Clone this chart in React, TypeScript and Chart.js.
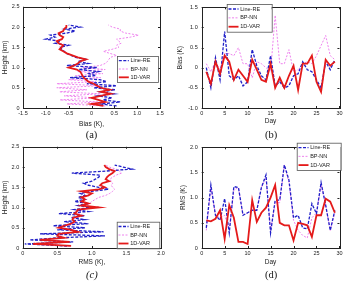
import React, { useEffect, useRef } from "react";
import { Chart, registerables } from "chart.js";
Chart.register(...registerables);

// ---------- data ----------
const heights = [0.05, 0.1, 0.15, 0.2, 0.25, 0.3, 0.35, 0.4, 0.45, 0.5, 0.55, 0.6, 0.65, 0.7, 0.75, 0.8, 0.85, 0.9, 0.95, 1.0, 1.05, 1.1, 1.15, 1.2, 1.25, 1.3, 1.35, 1.4, 1.45, 1.5, 1.55, 1.6, 1.65, 1.7, 1.75, 1.8, 1.85, 1.9, 1.95, 2.0, 2.05];

const biasProfileLineRE = [0.55, 0.2, 0.63, 0.25, 0.45, 0.15, 0.5, 0.2, 0.52, 0.05, 0.55, -0.1, 0.33, 0.18, -0.47, 0.1, -0.05, 0.15, -0.28, 0.12, -0.54, -0.07, -0.3, -0.1, -0.35, -0.45, -0.55, -0.6, -0.65, -0.68, -0.5, -0.8, -0.68, -1.0, -0.8, -0.9, -0.55, -0.36, -0.58, -0.25, -0.5];
const biasProfileBPNN = [0.3, -0.54, 0.15, -0.69, 0.1, -0.6, 0.2, -0.7, -0.1, -0.76, 0.19, -0.76, 0.1, -0.5, 0.2, -0.35, 0.25, -0.3, 0.3, -0.2, 0.19, 0.3, 0.35, 0.38, 0.41, 0.55, 0.4, 0.26, 0.45, 0.6, 0.55, 0.65, 0.6, 0.55, 0.85, 1.03, 0.75, 0.63, 0.63, 0.45, 0.37];
const biasProfileVAR = [0.26, 0.0, 0.3, 0.15, 0.0, 0.2, 0.42, 0.2, 0.4, 0.2, 0.12, 0.05, -0.07, -0.12, -0.17, -0.2, -0.22, -0.25, -0.32, -0.5, -0.38, -0.3, -0.25, -0.12, -0.3, -0.42, -0.54, -0.62, -0.7, -0.66, -0.62, -0.72, -0.76, -0.65, -0.62, -0.7, -0.72, -0.62, -0.6, -0.55, -0.55];

const rmsProfileLineRE = [0.64, 0.03, 0.73, 0.1, 0.5, 1.19, 0.25, 1.17, 0.5, 0.9, 0.44, 0.95, 0.6, 0.9, 0.7, 0.9, 0.52, 0.95, 0.75, 1.0, 0.8, 0.95, 0.75, 0.9, 0.8, 0.9, 0.83, 1.0, 1.24, 1.1, 0.95, 0.88, 1.0, 1.05, 1.1, 1.12, 0.71, 1.2, 1.58, 1.45, 1.33];
const rmsProfileBPNN = [0.68, 0.2, 0.65, 0.3, 0.6, 0.55, 0.55, 0.78, 0.72, 0.55, 0.62, 0.72, 0.78, 0.75, 0.78, 0.88, 0.8, 0.85, 0.85, 1.05, 0.9, 0.97, 1.0, 1.05, 1.1, 1.2, 1.26, 1.3, 1.33, 1.3, 1.28, 1.3, 1.28, 1.26, 1.3, 1.35, 1.43, 1.4, 1.35, 1.25, 1.2];
const rmsProfileVAR = [0.7, 0.15, 0.68, 0.25, 0.6, 0.5, 0.52, 0.8, 0.7, 0.52, 0.6, 0.7, 0.75, 0.72, 0.73, 0.85, 0.75, 0.78, 0.8, 1.1, 0.85, 0.95, 0.85, 0.9, 0.85, 0.95, 1.0, 0.85, 1.1, 1.19, 1.12, 1.15, 1.25, 1.2, 1.22, 1.25, 1.3, 1.33, 1.25, 1.2, 1.18];

const days = [1, 2, 3, 4, 5, 6, 7, 8, 9, 10, 11, 12, 13, 14, 15, 16, 17, 18, 19, 20, 21, 22, 23, 24, 25, 26, 27, 28, 29];

const biasDayLineRE = [0, -0.5, 0.25, -0.3, 0.9, -0.2, -0.3, -0.2, -0.45, -0.35, 0.45, 0.05, -0.2, -0.3, 0.3, -0.45, -0.35, -0.5, -0.45, -0.2, -0.15, 0.15, -0.05, -0.1, -0.3, -0.5, 0.15, -0.05, 0.2];
const biasDayBPNN = [0.1, -0.1, 0.15, -0.05, 0.35, 0.35, 0.3, 0.5, 0.1, 0.1, -0.25, 0.15, 0.1, 0, -0.1, 1.3, 0.1, 0.1, 0.45, -0.1, -0.05, 0.1, 0.15, 0.1, 0.3, 0.55, 0.8, 0.3, 0.2];
const biasDayVAR = [-0.1, -0.4, 0.15, -0.15, 0.3, 0.15, -0.3, -0.05, -0.2, -0.35, 0.2, -0.05, -0.3, -0.35, 0.1, -0.5, -0.25, -0.5, -0.2, 0.05, -0.55, 0.1, 0.1, 0.3, -0.35, -0.6, 0.2, 0.05, 0.15];

const rmsDayLineRE = [0.4, 1.25, 0.65, 0.55, 0.98, 0.3, 1.22, 1.2, 0.65, 0.7, 0.75, 0.75, 1.2, 1.45, 0.3, 0.95, 0.95, 1.65, 1.35, 0.6, 0.65, 0.4, 0.38, 0.88, 0.68, 1.3, 0.85, 0.35, 0.75];
const rmsDayBPNN = [0.35, 1.2, 0.65, 0.6, 0.65, 0.35, 1.15, 1.2, 0.65, 0.7, 0.75, 0.75, 1.2, 1.4, 0.35, 0.9, 0.9, 1.65, 1.3, 0.55, 0.35, 0.25, 0.2, 0.6, 0.7, 1.25, 0.85, 0.35, 0.7];
const rmsDayVAR = [0.55, 0.53, 0.58, 0.75, 0.18, 0.85, 0.6, 0.12, 0.12, 0.08, 0.95, 0.52, 0.7, 0.8, 1.0, 1.25, 0.5, 0.45, 0.45, 0.15, 0.5, 0.48, 0.45, 0.22, 0.65, 0.65, 0.98, 0.92, 0.7];

const seriesLabels = ["Line-RE", "BP-NN", "1D-VAR"];
const captions = ["(a)", "(b)", "(c)", "(d)"];

// ---------- styles ----------
const STYLES = [
  { color: "#2020c8", width: 1.3, dash: [3, 1.5] },
  { color: "#ee82ee", width: 1, dash: [2, 1.5] },
  { color: "#e41a1a", width: 1.8, dash: [] as number[] },
];
const SANS = '"Liberation Sans", Arial, sans-serif';
const tickFont = { family: SANS, size: 5.5 };
const titleFont = { family: SANS, size: 6.5 };

const framePlugin = {
  id: "frame",
  afterDatasetsDraw(chart: any, _a: any, opts: any) {
    const { ctx, chartArea } = chart;
    const { left, right, top, bottom } = chartArea;
    ctx.save();
    ctx.strokeStyle = "#222";
    ctx.lineWidth = 1;
    ctx.setLineDash([]);
    ctx.beginPath();
    const xs = chart.scales.x;
    for (const t of xs.ticks) {
      const px = Math.round(xs.getPixelForValue(t.value)) + 0.5;
      ctx.moveTo(px, bottom); ctx.lineTo(px, bottom - 2);
      ctx.moveTo(px, top); ctx.lineTo(px, top + 2);
    }
    const ys = chart.scales.y;
    for (const t of ys.ticks) {
      const py = Math.round(ys.getPixelForValue(t.value)) + 0.5;
      ctx.moveTo(left, py); ctx.lineTo(left + 2, py);
      ctx.moveTo(right, py); ctx.lineTo(right - 2, py);
    }
    ctx.stroke();
    ctx.strokeRect(Math.round(left) + 0.5, Math.round(top) + 0.5, Math.round(right - left), Math.round(bottom - top));
    // legend
    const L = opts.box;
    if (L) {
      ctx.fillStyle = "#fff";
      ctx.fillRect(L.x, L.y, L.w, L.h);
      ctx.strokeStyle = "#555";
      ctx.lineWidth = 0.8;
      ctx.strokeRect(L.x + 0.5, L.y + 0.5, L.w, L.h);
      seriesLabels.forEach((lab, i) => {
        const s = STYLES[i];
        const cy = L.y + L.h * (0.18 + i * 0.32);
        ctx.strokeStyle = s.color;
        ctx.lineWidth = s.width;
        ctx.setLineDash(s.dash);
        ctx.beginPath();
        ctx.moveTo(L.x + 1.8, cy);
        ctx.lineTo(L.x + 11.8, cy);
        ctx.stroke();
        ctx.setLineDash([]);
        ctx.fillStyle = "#222";
        ctx.font = `5.5px ${SANS}`;
        ctx.textBaseline = "middle";
        ctx.textAlign = "left";
        ctx.fillText(lab, L.x + 13.5, cy);
      });
    }
    ctx.restore();
  },
};

type Spec = {
  series: { x: number; y: number }[][];
  xMin: number; xMax: number; xStep: number;
  yMin: number; yMax: number; yStep: number;
  xTitle: string; yTitle: string;
  yWidth: number; padR: number; padT: number;
  yTitlePad: number; yTickPad: number; xTitlePad: number;
  box: { x: number; y: number; w: number; h: number };
};

const prof = (xs: number[]) => xs.map((v, i) => ({ x: v, y: heights[i] }));
const daily = (ys: number[]) => ys.map((v, i) => ({ x: days[i], y: v }));

function makeConfig(p: Spec): any {
  // draw order: 1D-VAR on top, then Line-RE, then BP-NN
  const order = [2, 0, 1];
  return {
    type: "scatter",
    data: {
      datasets: order.map((k) => ({
        label: seriesLabels[k],
        data: p.series[k],
        showLine: true,
        borderColor: STYLES[k].color,
        borderWidth: STYLES[k].width,
        borderDash: STYLES[k].dash,
        pointRadius: 0,
        fill: false,
        tension: 0,
      })),
    },
    options: {
      animation: false,
      responsive: false,
      events: [],
      layout: { padding: { left: 0, right: p.padR, top: p.padT, bottom: 0 } },
      plugins: { legend: { display: false }, tooltip: { enabled: false }, frame: { box: p.box } },
      scales: {
        x: {
          type: "linear", min: p.xMin, max: p.xMax,
          ticks: { stepSize: p.xStep, padding: 2.5, font: tickFont, color: "#222", maxRotation: 0, autoSkip: false },
          grid: { display: false, drawTicks: false },
          border: { display: false },
          title: { display: true, text: p.xTitle, font: titleFont, color: "#222", padding: { top: 0, bottom: p.xTitlePad } },
          afterFit: (s: any) => { s.height = 22; },
        },
        y: {
          type: "linear", min: p.yMin, max: p.yMax,
          ticks: { stepSize: p.yStep, padding: p.yTickPad, font: tickFont, color: "#222", autoSkip: false },
          grid: { display: false, drawTicks: false },
          border: { display: false },
          title: { display: true, text: p.yTitle, font: titleFont, color: "#222", padding: { top: p.yTitlePad, bottom: 0 } },
          afterFit: (s: any) => { s.width = p.yWidth; },
        },
      },
    },
    plugins: [framePlugin],
  };
}

const specs: Spec[] = [
  {
    series: [prof(biasProfileLineRE), prof(biasProfileBPNN), prof(biasProfileVAR)],
    xMin: -1.5, xMax: 1.5, xStep: 0.5, yMin: 0, yMax: 2.5, yStep: 0.5,
    xTitle: "Bias (K),", yTitle: "Height (km)",
    yWidth: 23, padR: 12, padT: 4, yTitlePad: 1, yTickPad: 3.5, xTitlePad: 2,
    box: { x: 117, y: 56, w: 41, h: 26 },
  },
  {
    series: [daily(biasDayLineRE), daily(biasDayBPNN), daily(biasDayVAR)],
    xMin: 0, xMax: 30, xStep: 5, yMin: -1, yMax: 1.5, yStep: 0.5,
    xTitle: "Day", yTitle: "Bias (K)",
    yWidth: 29.7, padR: 4.3, padT: 2.7, yTitlePad: 4, yTickPad: 4, xTitlePad: 4.4,
    box: { x: 54.7, y: 4, w: 45, h: 27.7 },
  },
  {
    series: [prof(rmsProfileLineRE), prof(rmsProfileBPNN), prof(rmsProfileVAR)],
    xMin: 0, xMax: 2, xStep: 0.5, yMin: 0, yMax: 2.5, yStep: 0.5,
    xTitle: "RMS (K),", yTitle: "Height (km)",
    yWidth: 22.7, padR: 11, padT: 4.3, yTitlePad: 1, yTickPad: 3.5, xTitlePad: 3.4,
    box: { x: 116.7, y: 81.7, w: 42.6, h: 26.6 },
  },
  {
    series: [daily(rmsDayLineRE), daily(rmsDayBPNN), daily(rmsDayVAR)],
    xMin: 0, xMax: 30, xStep: 5, yMin: 0, yMax: 2, yStep: 0.5,
    xTitle: "Day", yTitle: "RMS (K)",
    yWidth: 29.7, padR: 4.3, padT: 2.7, yTitlePad: 7, yTickPad: 4, xTitlePad: 3.4,
    box: { x: 124.7, y: 2.7, w: 44, h: 27.3 },
  },
];

const placements = [
  { left: 0, top: 0, width: 172, height: 130, capX: 91.5, capY: 135, italic: false },
  { left: 172, top: 0, width: 173, height: 130, capX: 271.2, capY: 135, italic: false },
  { left: 0, top: 140, width: 172, height: 130, capX: 91.8, capY: 275, italic: true },
  { left: 172, top: 140, width: 173, height: 130, capX: 271.2, capY: 275, italic: false },
];

function Panel({ idx }: { idx: number }) {
  const ref = useRef<HTMLCanvasElement>(null);
  const pl = placements[idx];
  useEffect(() => {
    const ch = new Chart(ref.current as HTMLCanvasElement, makeConfig(specs[idx]));
    return () => ch.destroy();
  }, [idx]);
  return (
    <canvas
      ref={ref}
      width={pl.width}
      height={pl.height}
      style={{ position: "absolute", left: pl.left, top: pl.top, width: pl.width, height: pl.height }}
    />
  );
}

export default function App() {
  return (
    <div style={{ position: "fixed", left: 0, top: 0, width: 345, height: 283, background: "#fff", overflow: "hidden" }}>
      {[0, 1, 2, 3].map((i) => (
        <Panel key={i} idx={i} />
      ))}
      {placements.map((pl, i) => (
        <div
          key={"c" + i}
          style={{
            position: "absolute",
            left: pl.capX - 20,
            top: pl.capY - 6,
            width: 40,
            height: 12,
            lineHeight: "12px",
            textAlign: "center",
            fontFamily: '"Liberation Serif", "Times New Roman", serif',
            fontSize: 10.5,
            fontStyle: pl.italic ? "italic" : "normal",
            color: "#111",
          }}
        >
          {captions[i]}
        </div>
      ))}
    </div>
  );
}
